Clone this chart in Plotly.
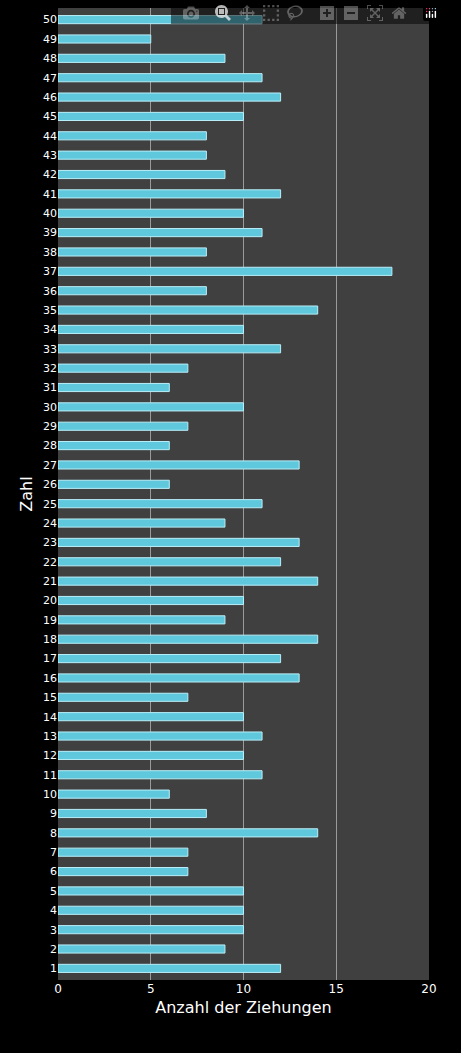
import plotly.graph_objects as go

zahlen = list(range(1, 51))
anzahl = [12, 9, 10, 10, 10, 7, 7, 14, 8, 6,
          11, 10, 11, 10, 7, 13, 12, 14, 9, 10,
          14, 12, 13, 9, 11, 6, 13, 6, 7, 10,
          6, 7, 12, 10, 14, 8, 18, 8, 11, 10,
          12, 9, 8, 8, 10, 12, 11, 9, 5, 11]
x_ticks = [0, 5, 10, 15, 20]

fig = go.Figure(go.Bar(
    x=anzahl, y=zahlen, orientation="h", width=0.42,
    marker=dict(color="#5fc8dc", line=dict(color="#b8eef8", width=1)),
))
fig.update_layout(
    width=445, height=1037,
    paper_bgcolor="black", plot_bgcolor="#404040",
    margin=dict(l=58, r=13, t=8, b=57),
    font=dict(family="DejaVu Sans", color="white", size=12),
    showlegend=False,
)
fig.update_xaxes(range=[0, 20], tickvals=x_ticks, showgrid=True,
                 gridcolor="#9a9a9a", gridwidth=1, zeroline=False,
                 title=dict(text="Anzahl der Ziehungen", font=dict(size=16), standoff=6),
                 ticks="", showline=False)
fig.update_yaxes(range=[0.4, 50.6], tickvals=zahlen, showgrid=False,
                 title=dict(text="Zahl", font=dict(size=16), standoff=6),
                 tickfont=dict(size=11), ticks="", zeroline=False)
fig.write_html("out.html")
with open("out.html") as f:
    html = f.read()
html = html.replace("<head>", "<head><style>body{margin:0;background:black}</style>", 1)
with open("out.html", "w") as f:
    f.write(html)
